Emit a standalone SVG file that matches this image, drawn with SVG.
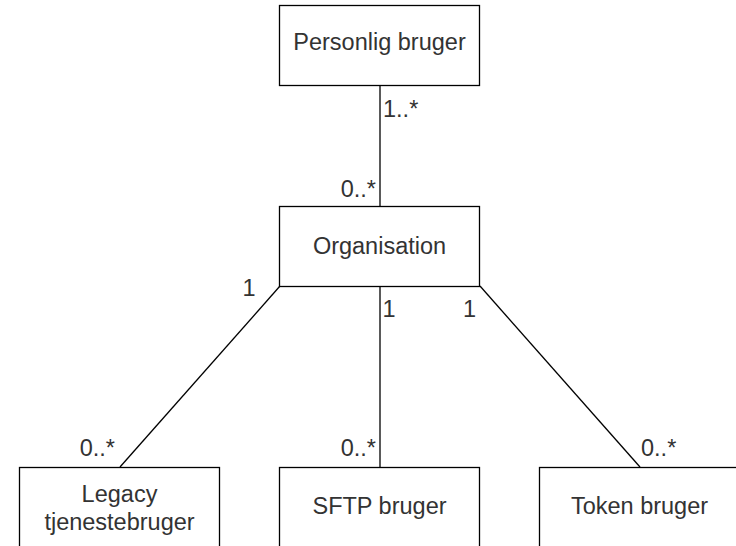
<svg xmlns="http://www.w3.org/2000/svg" width="736" height="546" viewBox="0 0 736 546">
  <style>
    .box { fill: #ffffff; stroke: #000000; stroke-width: 1.3; }
    .edge { fill: none; stroke: #000000; stroke-width: 1.3; }
    .label { font-family: "Liberation Sans", Arial, sans-serif; font-size: 23.5px; fill: #333333; text-anchor: middle; }
    .mult { font-family: "Liberation Sans", Arial, sans-serif; font-size: 23.5px; fill: #333333; }
  </style>
  <rect width="736" height="546" fill="#ffffff"/>

  <!-- associations -->
  <g id="connectors">
    <line class="edge" x1="380" y1="86" x2="380" y2="206"/>
    <line class="edge" x1="280" y1="286" x2="120" y2="467"/>
    <line class="edge" x1="380" y1="286" x2="380" y2="467"/>
    <line class="edge" x1="480" y1="286" x2="640" y2="467"/>
  </g>

  <!-- multiplicities -->
  <g id="multiplicities">
    <text class="mult" x="383" y="116.5">1..*</text>
    <text class="mult" x="376" y="196.5" text-anchor="end">0..*</text>
    <text class="mult" x="249" y="296" text-anchor="middle">1</text>
    <text class="mult" x="389" y="317" text-anchor="middle">1</text>
    <text class="mult" x="469.5" y="317" text-anchor="middle">1</text>
    <text class="mult" x="115" y="456" text-anchor="end">0..*</text>
    <text class="mult" x="376" y="456" text-anchor="end">0..*</text>
    <text class="mult" x="641" y="456">0..*</text>
  </g>

  <g id="personlig-bruger">
    <rect class="box" x="279.5" y="5.5" width="200" height="80"/>
    <text class="label" x="379.5" y="50">Personlig bruger</text>
  </g>

  <g id="organisation">
    <rect class="box" x="279.5" y="206.5" width="200" height="80"/>
    <text class="label" x="379.5" y="253.5">Organisation</text>
  </g>

  <g id="legacy-tjenestebruger">
    <rect class="box" x="19.5" y="467.5" width="200" height="80"/>
    <text class="label" x="119.5" y="501.5">Legacy</text>
    <text class="label" x="119.5" y="530">tjenestebruger</text>
  </g>

  <g id="sftp-bruger">
    <rect class="box" x="279.5" y="467.5" width="200" height="80"/>
    <text class="label" x="379.5" y="514">SFTP bruger</text>
  </g>

  <g id="token-bruger">
    <rect class="box" x="539.5" y="467.5" width="200" height="80"/>
    <text class="label" x="639.5" y="514">Token bruger</text>
  </g>
</svg>
